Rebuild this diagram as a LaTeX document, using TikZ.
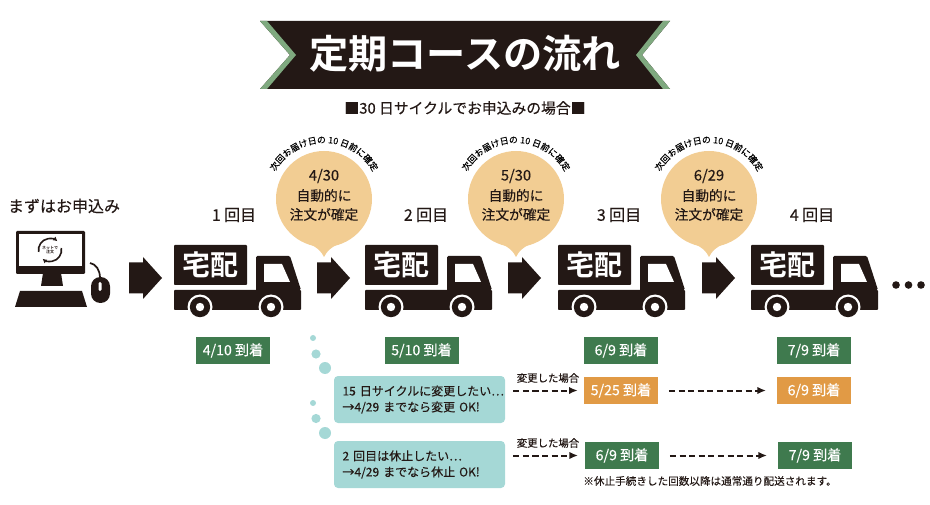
\documentclass[tikz,border=0pt]{standalone}
\usepackage{fontspec}
\setmainfont{Noto Sans CJK JP}
\newfontfamily\jpm{Noto Sans CJK JP}[FakeBold=0.25]
\newfontfamily\jpb{Noto Sans CJK JP Bold}
\usetikzlibrary{decorations.text,arrows.meta}
\definecolor{ink}{HTML}{231815}
\definecolor{leaf}{HTML}{7FA97F}
\definecolor{peach}{HTML}{F2CD93}
\definecolor{dgreen}{HTML}{3F7A4E}
\definecolor{amber}{HTML}{E19A45}
\definecolor{aqua}{HTML}{A5D8D6}
\def\px{0.75pt}
\newcommand{\fs}[1]{\fontsize{#1}{#1}\selectfont}
\tikzset{
  x=0.75pt,y=-0.75pt,
  every node/.style={inner sep=0pt,text=ink},
  datebox/.style={minimum width=74*\px,minimum height=27.5*\px,text=white,font=\jpm\fs{10.6}},
  greenbox/.style={datebox,fill=dgreen},
  amberbox/.style={datebox,fill=amber},
  notebox/.style={fill=aqua,rounded corners=3pt,minimum width=171*\px,minimum height=47*\px,text width=154*\px,align=left,font=\jpm\fontsize{9}{12}\selectfont},
  roundlabel/.style={font=\jpm\fs{12}},
  bubbletext/.style={font=\jpm\fs{10.3}},
  smalllabel/.style={font=\jpm\fs{7.8}},
  dashedarrow/.style={line width=1.5pt,ink,dash pattern=on 4.6pt off 2.6pt,-{Latex[length=6.5pt,width=5.5pt]}},
  iconarc/.style={ink,line width=1.2pt,-{Latex[length=3.2pt,width=3.6pt]}},
  pics/truck/.style={code={
    \fill[ink,rounded corners=0.6pt] (0,0) rectangle (73,40);
    \fill[ink,rounded corners=0.6pt] (0,45) rectangle (127,65);
    \fill[ink,rounded corners=1pt] (82,46) -- (82,11) -- (116,11) -- (127,45) -- cycle;
    \fill[white] (90,19) -- (108,19) -- (116,37) -- (90,37) -- cycle;
    \fill[white] (26,62) circle[radius=12.5]; \fill[ink] (26,62) circle[radius=10.2]; \fill[white] (26,62) circle[radius=4.2];
    \fill[white] (97,62) circle[radius=12.5]; \fill[ink] (97,62) circle[radius=10.2]; \fill[white] (97,62) circle[radius=4.2];
    \node[text=white,font=\jpb\fs{21}] (-label) at (36.5,20) {宅配};
  }},
  pics/flowarrow/.style={code={
    \fill[ink] (0,-15.5) -- (14,-15.5) -- (14,-21) -- (33,0) -- (14,21) -- (14,15.5) -- (0,15.5) -- cycle;
  }},
  pics/bubble/.style={code={
    \fill[peach] (0,0) circle[radius=48];
    \fill[peach] (-15,45) .. controls (-7,48) and (-3,52) .. (0,58) .. controls (3,52) and (7,48) .. (15,45) -- cycle;
    \node[bubbletext,font=\jpm\fs{11}] (-date) at (0,-23) {#1};
    \node[bubbletext] (-auto) at (0,-3.5) {自動的に};
    \node[bubbletext] (-conf) at (0,15.5) {注文が確定};
    \path[decorate,decoration={text along path,text align=center,
      text={|\jpm\fs{6.6}|次回お届け日の 10 日前に確定}}]
      (-152:56) arc[start angle=-152,end angle=-28,radius=56];
  }},
}
\begin{document}
\begin{tikzpicture}
\useasboundingbox (0,0) rectangle (930,505);
% banner
\fill[ink] (260,21) -- (670,21) -- (642,55) -- (670,89) -- (260,89) -- (290,55) -- cycle;
\fill[leaf] (260,21) -- (267,21) -- (296,55) -- (267,89) -- (260,89) -- (290,55) -- cycle;
\fill[leaf] (670,21) -- (663,21) -- (636,55) -- (663,89) -- (670,89) -- (642,55) -- cycle;
\node[text=white,font=\jpb\fs{29.4}] (title) at (465,54) {定期コースの流れ};
\node[font=\jpm\fs{11.1}] (sub) at (465,108) {■30 日サイクルでお申込みの場合■};
% computer
\node[font=\jpm\fs{12}] (start) at (64,206) {まずはお申込み};
\fill[ink,rounded corners=0.8pt] (16,231) rectangle (85,274);
\fill[white] (19,234) rectangle (82,266);
\fill[ink] (43,273) -- (61,273) -- (63,286) -- (41,286) -- cycle;
\fill[ink] (20,291) -- (82,291) -- (87,307) -- (15,307) -- cycle;
\draw[ink,line width=1.3pt] (90,263) .. controls (96,264) and (100,270) .. (100,278);
\fill[ink,rounded corners=7pt] (91,277) rectangle (110,303);
\fill[white,rounded corners=1pt] (98.5,282) rectangle (101.5,291);
\draw[iconarc] ([shift={(50,250)}]-190:11.5) arc[start angle=-190,end angle=-50,radius=11.5];
\draw[iconarc] ([shift={(50,250)}]-10:11.5) arc[start angle=-10,end angle=130,radius=11.5];
\node[font=\jpb\fs{3},align=center] (net) at (50,250) {ネットで\\[-0.3pt]注文};
% arrows
\pic at (129,278) {flowarrow};
\pic at (317,278) {flowarrow};
\pic at (508,278) {flowarrow};
\pic at (702,278) {flowarrow};
% trucks
\pic (t1) at (174,245) {truck};
\pic (t2) at (365,245) {truck};
\pic (t3) at (558,245) {truck};
\pic (t4) at (751,245) {truck};
% round labels
\node[roundlabel] (r1) at (234,215) {1\hspace{2.5pt}回目};
\node[roundlabel] (r2) at (426,215) {2\hspace{2.5pt}回目};
\node[roundlabel] (r3) at (619,215) {3\hspace{2.5pt}回目};
\node[roundlabel] (r4) at (812,215) {4\hspace{2.5pt}回目};
% bubbles
\pic (b1) at (324,199) {bubble={4/30}};
\pic (b2) at (516,199) {bubble={5/30}};
\pic (b3) at (709,199) {bubble={6/29}};
% ellipsis
\fill[ink] (896,285) circle[radius=3.8] (908.5,285) circle[radius=3.8] (921,285) circle[radius=3.8];
% dates
\node[greenbox] (d1) at (233,350.5) {4/10 到着};
\node[greenbox] (d2) at (421.5,350.5) {5/10 到着};
\node[greenbox] (d3) at (621,350.5) {6/9 到着};
\node[greenbox] (d4) at (814,350.5) {7/9 到着};
% thought dots
\fill[aqua] (313,338) circle[radius=3];
\fill[aqua] (316,354) circle[radius=4.6];
\fill[aqua] (325,368) circle[radius=6];
\fill[aqua] (313,403) circle[radius=3];
\fill[aqua] (316,418.5) circle[radius=4.6];
\fill[aqua] (325,433) circle[radius=6];
% notes
\node[notebox] (n1) at (419.5,399.5) {\mbox{15 日サイクルに変更したい…}\\\mbox{→4/29 までなら変更 OK!}};
\node[notebox] (n2) at (419.5,464.5) {\mbox{2 回目は休止したい…}\\\mbox{→4/29 までなら休止 OK!}};
% changed rows
\node[amberbox] (a1) at (621,390.5) {5/25 到着};
\node[amberbox] (a2) at (814,390.5) {6/9 到着};
\node[greenbox] (g1) at (622,455.5) {6/9 到着};
\node[greenbox] (g2) at (815,455.5) {7/9 到着};
\node[smalllabel] (c1) at (548,378) {変更した場合};
\node[smalllabel] (c2) at (548,443) {変更した場合};
\draw[dashedarrow,shorten <=6pt,shorten >=4.5pt] (n1.east |- a1) -- (a1.west);
\draw[dashedarrow,shorten <=8pt,shorten >=8pt] (a1.east) -- (a2.west);
\draw[dashedarrow,shorten <=6pt,shorten >=5pt] (n2.east |- g1) -- (g1.west);
\draw[dashedarrow,shorten <=8pt,shorten >=8pt] (g1.east) -- (g2.west);
\node[smalllabel,font=\jpm\fs{7.95}] (note) at (710,481) {※休止手続きした回数以降は通常通り配送されます。};
\end{tikzpicture}
\end{document}
